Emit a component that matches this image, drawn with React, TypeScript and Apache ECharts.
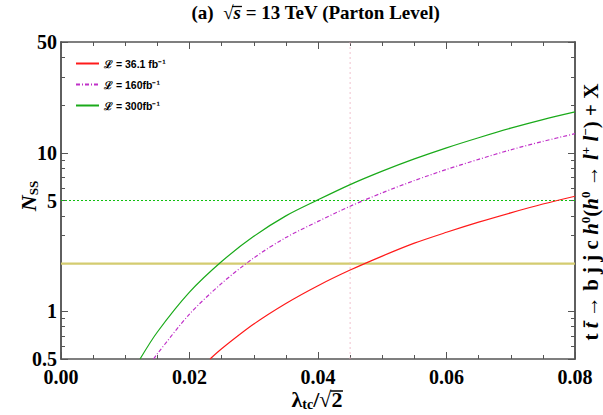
import React, { useEffect, useRef } from "react";
import * as echarts from "echarts";

// lambda_tc/sqrt2 vs N_SS
const greenX = [0.0123, 0.015, 0.02, 0.025, 0.03, 0.035, 0.04, 0.045, 0.05, 0.055, 0.06, 0.065, 0.07, 0.075, 0.08];
const greenY = [0.5, 0.74, 1.32, 2.06, 2.97, 4.0, 5.05, 6.3, 7.66, 9.15, 10.75, 12.45, 14.3, 16.2, 18.1];
const purpleX = [0.0144, 0.015, 0.02, 0.025, 0.03, 0.035, 0.04, 0.045, 0.05, 0.055, 0.06, 0.065, 0.07, 0.075, 0.08];
const purpleY = [0.5, 0.54, 0.96, 1.5, 2.17, 2.92, 3.69, 4.6, 5.59, 6.68, 7.85, 9.09, 10.44, 11.8, 13.2];
const redX = [0.0232, 0.025, 0.03, 0.035, 0.04, 0.045, 0.05, 0.055, 0.06, 0.065, 0.07, 0.075, 0.08];
const redY = [0.5, 0.58, 0.83, 1.12, 1.45, 1.82, 2.23, 2.69, 3.15, 3.65, 4.18, 4.75, 5.32];

const seriesNames = ["ℒ = 36.1 fb⁻¹", "ℒ = 160fb⁻¹", "ℒ = 300fb⁻¹"];
const sigma5 = 5;
const sigma2 = 2;
const sigmaLabelX = 0.0157;
const vLineX = 0.045;

const xMin = 0;
const xMax = 0.08;
const xInterval = 0.02;
const yMin = 0.5;
const yMax = 50;
const yMajorTicks = [0.5, 1, 10, 50];
const yMinorTicks = [0.6, 0.7, 0.8, 0.9, 2, 3, 4, 5, 6, 7, 8, 9, 20, 30, 40];
const yLabels = [0.5, 1, 5, 10, 50];

const zip = (xs: number[], ys: number[]) => xs.map((x, i) => [x, ys[i]]);

const SERIF = "'Liberation Serif', 'DejaVu Serif', serif";
const SANS = "'Liberation Sans', Arial, sans-serif";
const AXIS_COLOR = "#555";

function measure(text: string, font: string): number {
  const c = document.createElement("canvas").getContext("2d");
  if (!c) return text.length * 8;
  c.font = font;
  return c.measureText(text).width;
}

export default function App() {
  const ref = useRef<HTMLDivElement>(null);
  useEffect(() => {
    if (!ref.current) return;
    const chart = echarts.init(ref.current, undefined, { renderer: "svg" });

    const yAxisBase = (position: "left" | "right", ticks: number[], len: number, labels: boolean) => ({
      type: "log",
      logBase: 10,
      min: yMin,
      max: yMax,
      position,
      splitLine: { show: false },
      axisLine: { show: true, lineStyle: { color: AXIS_COLOR, width: 1.5 } },
      axisTick: { show: true, inside: true, length: len, customValues: ticks, lineStyle: { color: AXIS_COLOR } },
      axisLabel: labels
        ? {
            show: true,
            customValues: yLabels,
            formatter: (v: number) => String(v),
            fontFamily: SERIF,
            fontWeight: "bold",
            fontSize: 20,
            color: "#000",
            margin: 4,
          }
        : { show: false },
    });

    const xAxisBase = (position: "bottom" | "top", labels: boolean) => ({
      type: "value",
      min: xMin,
      max: xMax,
      interval: xInterval,
      position,
      splitLine: { show: false },
      axisLine: { show: true, lineStyle: { color: AXIS_COLOR, width: 1.5 } },
      axisTick: { show: true, inside: true, length: 7, lineStyle: { color: AXIS_COLOR } },
      minorTick: { show: true, splitNumber: 4, length: 4, lineStyle: { color: AXIS_COLOR } },
      axisLabel: labels
        ? {
            show: true,
            formatter: (v: number) => v.toFixed(2),
            fontFamily: SERIF,
            fontWeight: "bold",
            fontSize: 20,
            color: "#000",
            margin: 8,
          }
        : { show: false },
    });

    const sigmaLine = (y: number, color: string, width: number, type: any, label: string) => ({
      type: "line",
      symbol: "none",
      silent: true,
      z: 1,
      lineStyle: { color, width, type },
      data: [
        [xMin, y],
        {
          value: [sigmaLabelX, y],
          label: {
            show: true,
            position: "top",
            distance: 2,
            formatter: label,
            rich: {
              n: { fontFamily: SERIF, fontSize: 11, fontWeight: "bold", color: "#333" },
              s: { fontFamily: SERIF, fontSize: 11, fontStyle: "italic", fontWeight: "bold", color: "#333" },
            },
          },
        },
        [xMax, y],
      ],
    });

    const curve = (name: string, color: string, type: any, xs: number[], ys: number[]) => ({
      name,
      type: "line",
      symbol: "none",
      smooth: 0.3,
      z: 3,
      lineStyle: { color, width: 1.2, type },
      itemStyle: { color },
      data: zip(xs, ys),
    });

    // title layout (measured so that the radical's bar covers the "s")
    const tSize = 19;
    const tFont = `bold ${tSize}px 'Liberation Serif'`;
    const tFontI = `italic bold ${tSize}px 'Liberation Serif'`;
    const tA = "(a)  √";
    const tS = "s";
    const tB = " = 13 TeV (Parton Level)";
    const wA = measure(tA, tFont);
    const wS = measure(tS, tFontI);
    const wB = measure(tB, tFont);
    const wR = measure("√", tFont);
    const tCx = 316;
    const tLeft = tCx - (wA + wS + wB) / 2;
    const tTop = 3;

    // x-axis name layout
    const xSize = 22;
    const xFont = `bold ${xSize}px 'Liberation Serif'`;
    const xSub = `bold 14px 'Liberation Serif'`;
    const xa = measure("λ", xFont);
    const xb = measure("tc", xSub);
    const xc = measure("/√", xFont);
    const xd = measure("2", xFont);
    const xCx = 317;
    const xLeft = xCx - (xa + xb + xc + xd) / 2;
    const xTop = 387;

    chart.setOption({
      animation: false,
      grid: { left: 61, right: 28, top: 42, bottom: 56, containLabel: false },
      xAxis: [xAxisBase("bottom", true), xAxisBase("top", false)],
      yAxis: [
        yAxisBase("left", yMajorTicks, 7, true),
        yAxisBase("left", yMinorTicks, 4, false),
        yAxisBase("right", yMajorTicks, 7, false),
        yAxisBase("right", yMinorTicks, 4, false),
      ],
      legend: {
        left: 70,
        top: 53,
        orient: "vertical",
        itemWidth: 23,
        itemHeight: 10,
        itemGap: 10,
        data: seriesNames,
        itemStyle: { opacity: 0 },
        textStyle: { fontFamily: SANS, fontWeight: "bold", fontSize: 10.5, color: "#000" },
      },
      series: [
        sigmaLine(sigma2, "#d4cc70", 2.2, "solid", "{n|2}{s|σ}"),
        sigmaLine(sigma5, "#10c010", 1.2, [2, 2], "{n|5}{s|σ}"),
        {
          type: "line",
          symbol: "none",
          silent: true,
          z: 1,
          lineStyle: { color: "#eeb0c0", width: 0.8, type: [2, 3] },
          data: [
            [vLineX, yMin],
            [vLineX, yMax],
          ],
        },
        curve(seriesNames[0], "#ff1a1a", "solid", redX, redY),
        curve(seriesNames[1], "#c030c8", [4, 2, 1, 2], purpleX, purpleY),
        curve(seriesNames[2], "#1aaa1a", "solid", greenX, greenY),
      ],
      graphic: [
        {
          type: "text",
          x: tLeft,
          y: tTop,
          style: {
            text: "{n|" + tA + "}{s|" + tS + "}{n|" + tB + "}",
            rich: {
              n: { fontFamily: "'Liberation Serif'", fontWeight: "bold", fontSize: tSize, fill: "#000" },
              s: { fontFamily: "'Liberation Serif'", fontWeight: "bold", fontStyle: "italic", fontSize: tSize, fill: "#000" },
            },
          },
        },
        {
          type: "line",
          shape: { x1: tLeft + wA - wR * 0.15, y1: tTop + 3.5, x2: tLeft + wA + wS + 1, y2: tTop + 3.5 },
          style: { stroke: "#000", lineWidth: 1.3 },
        },
        {
          type: "text",
          x: 28,
          y: 196,
          rotation: Math.PI / 2,
          style: {
            text: "{n|N}{s|SS}",
            align: "center",
            verticalAlign: "middle",
            rich: {
              n: { fontFamily: SERIF, fontWeight: "bold", fontStyle: "italic", fontSize: 22, fill: "#000" },
              s: { fontFamily: SERIF, fontWeight: "bold", fontSize: 13, fill: "#000", padding: [10, 0, 0, 0] },
            },
          },
        },
        {
          type: "text",
          x: xLeft,
          y: xTop,
          style: {
            text: "{n|λ}{s|tc}{n|/√2}",
            rich: {
              n: { fontFamily: "'Liberation Serif'", fontWeight: "bold", fontSize: xSize, fill: "#000" },
              s: { fontFamily: "'Liberation Serif'", fontWeight: "bold", fontSize: 14, fill: "#000", padding: [10, 0, 0, 0] },
            },
          },
        },
        {
          type: "line",
          shape: {
            x1: xLeft + xa + xb + xc - 1,
            y1: xTop + 4,
            x2: xLeft + xa + xb + xc + xd + 0.5,
            y2: xTop + 4,
          },
          style: { stroke: "#000", lineWidth: 1.5 },
        },
        {
          type: "text",
          x: 591,
          y: 212,
          rotation: Math.PI / 2,
          style: {
            text: "{n|t }{i|t̄}{n| → b j j c }{i|h}{p|0}{n|(}{i|h}{p|0}{n| → }{i|l}{p|+}{n| }{i|l}{p|−}{n|) + X}",
            align: "center",
            verticalAlign: "middle",
            rich: {
              n: { fontFamily: SERIF, fontWeight: "bold", fontSize: 21, fill: "#000" },
              i: { fontFamily: SERIF, fontWeight: "bold", fontStyle: "italic", fontSize: 21, fill: "#000" },
              p: { fontFamily: SERIF, fontWeight: "bold", fontSize: 13, fill: "#000", padding: [0, 0, 11, 0] },
            },
          },
        },
      ],
    });
    return () => chart.dispose();
  }, []);
  return (
    <div
      ref={ref}
      style={{ position: "absolute", left: 0, top: 0, width: 603, height: 415 }}
    />
  );
}
